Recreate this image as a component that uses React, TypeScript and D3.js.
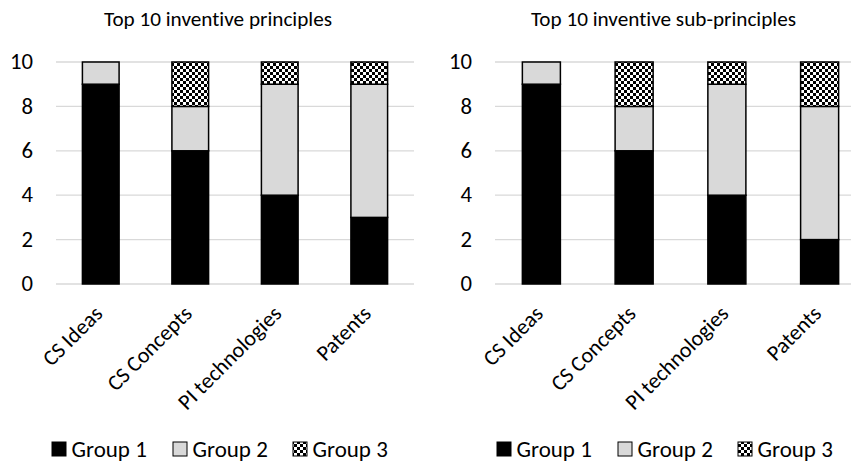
import React from "react";
import * as d3 from "d3";

const categories = ["CS Ideas", "CS Concepts", "PI technologies", "Patents"];
const seriesNames = ["Group 1", "Group 2", "Group 3"];
const leftGroup1 = [9, 6, 4, 3];
const leftGroup2 = [1, 2, 5, 6];
const leftGroup3 = [0, 2, 1, 1];
const rightGroup1 = [9, 6, 4, 2];
const rightGroup2 = [1, 2, 5, 6];
const rightGroup3 = [0, 2, 1, 2];
const yTicks = [0, 2, 4, 6, 8, 10];
const titles = ["Top 10 inventive principles", "Top 10 inventive sub-principles"];

const FONT = "Carlito, Calibri, Lato, sans-serif";
const fills = ["#000000", "#d9d9d9", "url(#checker)"];
const noLig = { fontVariantLigatures: "none" as const };

type PanelProps = {
  title: string;
  series: number[][];
  x0: number;
  x1: number;
  titleX: number;
  legendX: number[];
};

function Panel({ title, series, x0, x1, titleX, legendX }: PanelProps) {
  const y = d3.scaleLinear().domain([0, 10]).range([284, 62]);
  const x = d3.scaleBand<string>().domain(categories).range([x0, x1]).paddingInner(0.59).paddingOuter(0.295);
  const data = categories.map((c, i) => {
    const o: any = { cat: c };
    seriesNames.forEach((s, k) => (o[s] = series[k][i]));
    return o;
  });
  const stacked = d3.stack<any>().keys(seriesNames)(data);
  return (
    <g>
      <text x={titleX} y={25.5} textAnchor="middle" fontSize={21.2} fontFamily={FONT} fill="#000" style={noLig}>
        {title}
      </text>
      {yTicks.map((t) => (
        <g key={t}>
          <line x1={x0} x2={x1} y1={y(t)} y2={y(t)} stroke="#d9d9d9" strokeWidth={1.3} />
          <text x={x0 - 23} y={y(t)} dy="0.32em" textAnchor="end" fontSize={22.7} fontFamily={FONT} fill="#000">
            {t}
          </text>
        </g>
      ))}
      {stacked.map((layer, k) =>
        layer.map((d, i) =>
          d[1] - d[0] > 0 ? (
            <rect
              key={k + "-" + i}
              x={x(categories[i])!}
              width={x.bandwidth()}
              y={y(d[1])}
              height={y(d[0]) - y(d[1])}
              fill={fills[k]}
              stroke="#000"
              strokeWidth={1.5}
            />
          ) : null
        )
      )}
      {categories.map((c) => {
        const cx = x(c)! + x.bandwidth() / 2;
        return (
          <text
            key={c}
            transform={`translate(${cx + 3},${315}) rotate(-45)`}
            textAnchor="end"
            fontSize={22}
            fontFamily={FONT}
            fill="#000"
            style={noLig}
          >
            {c}
          </text>
        );
      })}
      {seriesNames.map((s, k) => (
        <g key={s}>
          <rect x={legendX[k]} y={442} width={14} height={14} fill={fills[k]} stroke="#000" strokeWidth={1} />
          <text x={legendX[k] + 19.5} y={456.5} fontSize={23} fontFamily={FONT} fill="#000">
            {s}
          </text>
        </g>
      ))}
    </g>
  );
}

export default function App() {
  return (
    <svg width={851} height={462} style={{ position: "absolute", left: 0, top: 0, background: "#fff" }}>
      <defs>
        <pattern id="checker" width={6} height={6} patternUnits="userSpaceOnUse">
          <rect width={6} height={6} fill="#fff" />
          <rect width={3} height={3} fill="#000" />
          <rect x={3} y={3} width={3} height={3} fill="#000" />
        </pattern>
      </defs>
      <rect width={851} height={462} fill="#fff" />
      <Panel
        title={titles[0]}
        series={[leftGroup1, leftGroup2, leftGroup3]}
        x0={56}
        x1={414}
        titleX={218}
        legendX={[52, 173, 293]}
      />
      <Panel
        title={titles[1]}
        series={[rightGroup1, rightGroup2, rightGroup3]}
        x0={495}
        x1={866}
        titleX={663.5}
        legendX={[497, 618, 738]}
      />
    </svg>
  );
}
